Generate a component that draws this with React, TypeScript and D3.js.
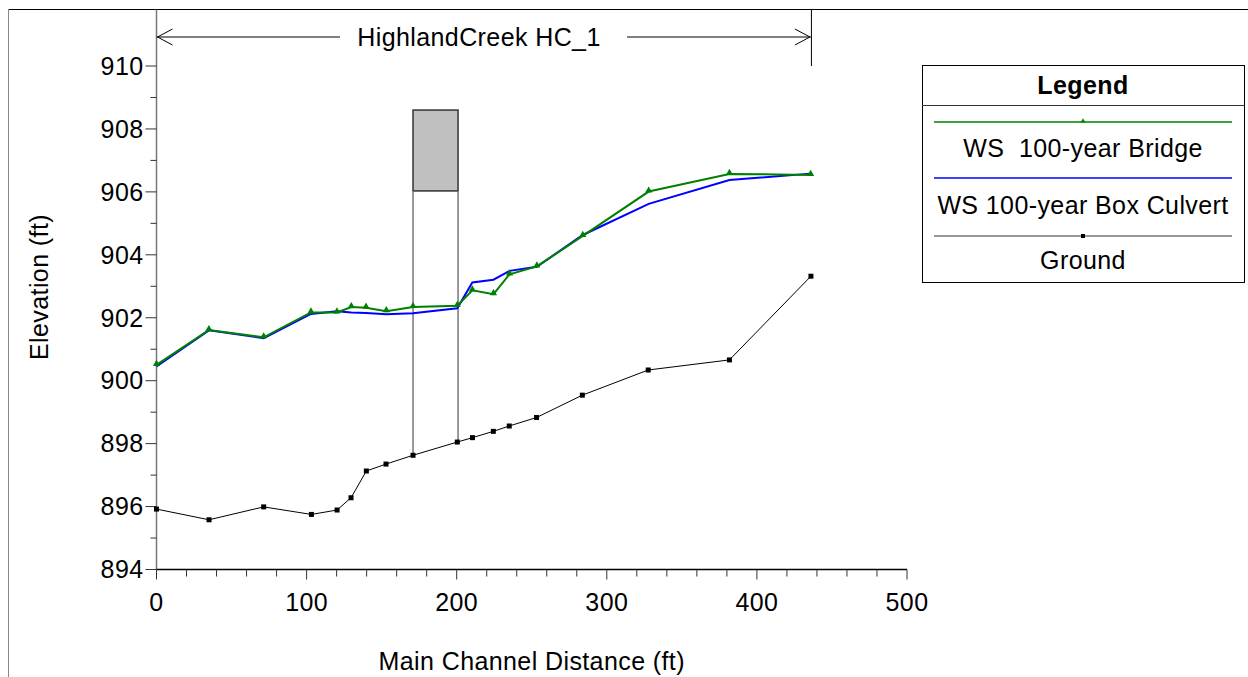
import React from "react";
import * as d3 from "d3";

const groundStation = [0, 35.0, 71.4, 103.2, 120.3, 129.6, 139.8, 152.9, 170.9, 200.4, 210.5, 224.4, 235.0, 253.2, 283.7, 327.6, 381.7, 436];
const groundElev = [895.92, 895.58, 895.99, 895.75, 895.89, 896.28, 897.13, 897.35, 897.63, 898.05, 898.19, 898.39, 898.56, 898.83, 899.54, 900.34, 900.66, 903.32];

const wsStation = [0, 34.9, 71.4, 102.9, 120.2, 129.8, 139.6, 153.1, 170.9, 200.4, 210.4, 224.5, 235.2, 253.4, 284.0, 327.9, 381.7, 435.8];
const wsBridge = [900.50, 901.61, 901.38, 902.17, 902.17, 902.34, 902.32, 902.21, 902.34, 902.38, 902.87, 902.75, 903.38, 903.63, 904.60, 906.01, 906.57, 906.54];
const wsCulvert = [900.45, 901.60, 901.35, 902.12, 902.21, 902.17, 902.15, 902.11, 902.14, 902.30, 903.12, 903.21, 903.49, 903.62, 904.63, 905.62, 906.38, 906.58];

const bridgeStations = [170.9, 200.9];
const bridgeLowChord = 906.03;
const bridgeHighChord = 908.6;
const reachEnd = 436;

const xTicks = [0, 100, 200, 300, 400, 500];
const yTicks = [894, 896, 898, 900, 902, 904, 906, 908, 910];

const reachLabel = "HighlandCreek HC_1";
const legendTitle = "Legend";
const legendItems = ["WS  100-year Bridge", "WS 100-year Box Culvert", "Ground"];

const FONT = "'Liberation Sans', Arial, sans-serif";
const FS = 25;
const LS = 0.4;

export default function App() {
  const x = d3.scaleLinear().domain([0, 500]).range([156.5, 907]);
  const y = d3.scaleLinear().domain([894, 910]).range([569.5, 66]);

  const line = d3
    .line<[number, number]>()
    .x((d) => x(d[0]))
    .y((d) => y(d[1]));

  const groundData: [number, number][] = groundStation.map((s, i) => [s, groundElev[i]]);
  const bridgeData: [number, number][] = wsStation.map((s, i) => [s, wsBridge[i]]);
  const culvertData: [number, number][] = wsStation.map((s, i) => [s, wsCulvert[i]]);

  const groundAt = (s: number) => {
    const i = d3.bisectLeft(groundStation, s);
    if (i <= 0) return groundElev[0];
    if (i >= groundStation.length) return groundElev[groundElev.length - 1];
    const s0 = groundStation[i - 1], s1 = groundStation[i];
    const t = (s - s0) / (s1 - s0);
    return groundElev[i - 1] + t * (groundElev[i] - groundElev[i - 1]);
  };

  const xMinor = d3.range(0, 501, 20).filter((v) => v % 100 !== 0);
  const yMinor = d3.range(895, 911, 2);

  const x0 = x(0);
  const yBase = y(894);
  const xEnd = x(reachEnd);
  const arrowY = 37;

  const triangle = d3.symbol().type(d3.symbolTriangle).size(22);

  // legend layout
  const lgX0 = 922, lgX1 = 1244, lgY0 = 65, lgY1 = 282;
  const lgMid = (lgX0 + lgX1) / 2;
  const legendLineY = [122, 178, 236];
  const legendTextY = [157, 214, 269];

  const textProps = { fontSize: FS, fill: "#000", letterSpacing: LS } as const;

  return (
    <svg
      width={1248}
      height={677}
      style={{ position: "absolute", left: 0, top: 0, background: "#fff" }}
      fontFamily={FONT}
    >
      <rect x={0} y={0} width={1248} height={677} fill="#fff" />
      {/* frame */}
      <line x1={8.5} y1={9.5} x2={1248} y2={9.5} stroke="#000" strokeWidth={1} />
      <line x1={8.5} y1={9.5} x2={8.5} y2={677} stroke="#888" strokeWidth={1} />

      {/* bridge */}
      <rect
        x={x(bridgeStations[0])}
        y={y(bridgeHighChord)}
        width={x(bridgeStations[1]) - x(bridgeStations[0])}
        height={y(bridgeLowChord) - y(bridgeHighChord)}
        fill="#c0c0c0"
        stroke="#333"
        strokeWidth={1.5}
      />
      {bridgeStations.map((s, i) => (
        <line
          key={i}
          x1={x(s)}
          x2={x(s)}
          y1={y(bridgeLowChord)}
          y2={y(groundAt(s))}
          stroke="#777"
          strokeWidth={1.5}
        />
      ))}

      {/* axes */}
      <line x1={x0} y1={9.5} x2={x0} y2={yBase} stroke="#777" strokeWidth={1.5} />
      <line x1={x0} y1={yBase} x2={x(500)} y2={yBase} stroke="#000" strokeWidth={1.5} />
      {yTicks.map((v) => (
        <g key={"yt" + v}>
          <line x1={x0 - 11} x2={x0} y1={y(v)} y2={y(v)} stroke="#333" strokeWidth={1} />
          <text x={x0 - 13} y={y(v)} dy="0.35em" textAnchor="end" {...textProps}>
            {v}
          </text>
        </g>
      ))}
      {yMinor.map((v) => (
        <line key={"ym" + v} x1={x0 - 6} x2={x0} y1={y(v)} y2={y(v)} stroke="#333" strokeWidth={1} />
      ))}
      {xTicks.map((v) => (
        <g key={"xt" + v}>
          <line x1={x(v)} x2={x(v)} y1={yBase} y2={yBase + 10} stroke="#333" strokeWidth={1} />
          <text x={x(v)} y={yBase + 41} textAnchor="middle" {...textProps}>
            {v}
          </text>
        </g>
      ))}
      {xMinor.map((v) => (
        <line key={"xm" + v} x1={x(v)} x2={x(v)} y1={yBase} y2={yBase + 7} stroke="#333" strokeWidth={1} />
      ))}
      <text x={(x(0) + x(500)) / 2} y={670} textAnchor="middle" {...textProps}>
        Main Channel Distance (ft)
      </text>
      <text transform={`translate(48, 287) rotate(-90)`} textAnchor="middle" {...textProps}>
        Elevation (ft)
      </text>

      {/* reach header */}
      <line x1={xEnd + 0.5} x2={xEnd + 0.5} y1={9.5} y2={66} stroke="#000" strokeWidth={1} />
      <line x1={x0} x2={340} y1={arrowY} y2={arrowY} stroke="#000" strokeWidth={1} />
      <line x1={627} x2={xEnd} y1={arrowY} y2={arrowY} stroke="#000" strokeWidth={1} />
      <path
        d={`M${x0 + 16},${arrowY - 8} L${x0 + 1},${arrowY} L${x0 + 16},${arrowY + 8}`}
        fill="none"
        stroke="#000"
        strokeWidth={1}
      />
      <path
        d={`M${xEnd - 16},${arrowY - 8} L${xEnd - 1},${arrowY} L${xEnd - 16},${arrowY + 8}`}
        fill="none"
        stroke="#000"
        strokeWidth={1}
      />
      <text x={479} y={arrowY} dy="0.35em" textAnchor="middle" {...textProps}>
        {reachLabel}
      </text>

      {/* ground */}
      <path d={line(groundData) || ""} fill="none" stroke="#000" strokeWidth={1} />
      {groundData.map((d, i) => (
        <rect key={"g" + i} x={x(d[0]) - 2.5} y={y(d[1]) - 2.5} width={5} height={5} fill="#000" />
      ))}

      {/* WS culvert */}
      <path d={line(culvertData) || ""} fill="none" stroke="#0000ff" strokeWidth={2} />

      {/* WS bridge */}
      <path d={line(bridgeData) || ""} fill="none" stroke="#008000" strokeWidth={2} />
      {bridgeData.map((d, i) => (
        <path
          key={"b" + i}
          d={triangle() || ""}
          transform={`translate(${x(d[0])},${y(d[1]) - 1})`}
          fill="#008000"
        />
      ))}

      {/* legend */}
      <rect x={lgX0 + 0.5} y={lgY0 + 0.5} width={lgX1 - lgX0} height={lgY1 - lgY0} fill="#fff" stroke="#000" strokeWidth={1} />
      <line x1={lgX0} x2={lgX1} y1={105.5} y2={105.5} stroke="#333" strokeWidth={1} />
      <text x={lgMid} y={94} textAnchor="middle" fontWeight="bold" {...textProps}>
        {legendTitle}
      </text>
      <line x1={934} x2={1232} y1={legendLineY[0]} y2={legendLineY[0]} stroke="#008000" strokeWidth={1.5} />
      <path d={d3.symbol().type(d3.symbolTriangle).size(10)() || ""} transform={`translate(${1083},${legendLineY[0] - 1})`} fill="#008000" />
      <line x1={934} x2={1232} y1={legendLineY[1]} y2={legendLineY[1]} stroke="#0000ff" strokeWidth={1.5} />
      <line x1={934} x2={1232} y1={legendLineY[2]} y2={legendLineY[2]} stroke="#333" strokeWidth={1} />
      <rect x={1081} y={legendLineY[2] - 2} width={4} height={4} fill="#000" />
      {legendItems.map((t, i) => (
        <text key={t} x={lgMid} y={legendTextY[i]} textAnchor="middle" {...textProps} style={{ whiteSpace: "pre" }}>
          {t}
        </text>
      ))}
    </svg>
  );
}
